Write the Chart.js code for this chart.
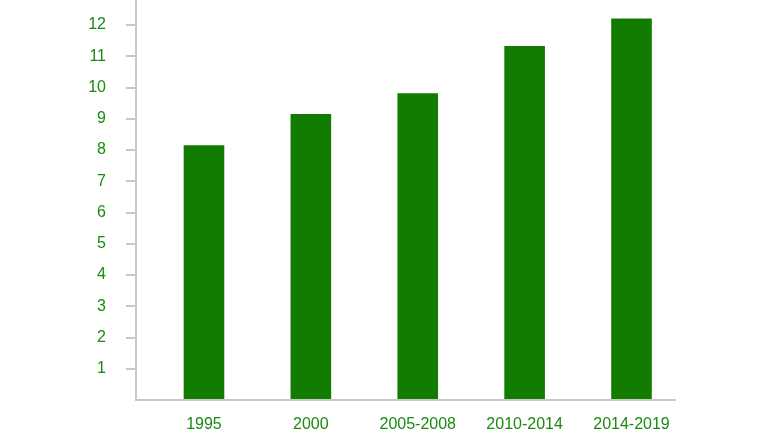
<!DOCTYPE html>
<html>
<head>
<meta charset="utf-8">
<script src="https://cdn.jsdelivr.net/npm/chart.js@4/dist/chart.umd.min.js"></script>
<style>
    html, body { margin: 0; padding: 0; background: #ffffff; }
    #wrap { width: 767px; height: 431px; position: relative; }
</style>
</head>
<body>
<div id="wrap"><canvas id="chart"></canvas></div>
<script>
// Chart data
const categories = ['1995', '2000', '2005-2008', '2010-2014', '2014-2019'];
const values = [8.15, 9.15, 9.82, 11.33, 12.21];
const yTicks = [1, 2, 3, 4, 5, 6, 7, 8, 9, 10, 11, 12];

const barColor = '#127c00';
const textColor = '#1a8a10';
const axisColor = '#c8c8c8';
const labelFont = { family: '"Liberation Sans", Arial, sans-serif', size: 16 };

/**
 * Build the bar chart
 */
function createChart() {
    const ctx = document.getElementById('chart');

    // bars are placed on a numeric x scale so the category band can be offset like the original
    const points = values.map((v, i) => ({ x: i, y: v }));

    new Chart(ctx, {
        type: 'bar',
        data: {
            datasets: [{
                data: points,
                backgroundColor: barColor,
                borderWidth: 0,
                barPercentage: 0.38,
                categoryPercentage: 1
            }]
        },
        options: {
            responsive: true,
            maintainAspectRatio: false,
            animation: false,
            layout: {
                padding: { left: 0, right: 92, top: 0, bottom: 0 }
            },
            plugins: {
                legend: { display: false },
                tooltip: { enabled: false }
            },
            scales: {
                x: {
                    type: 'linear',
                    offset: false,
                    min: -0.636,
                    max: 4.407,
                    grid: { display: false, drawTicks: false, offset: false },
                    border: { display: true, color: axisColor, width: 2 },
                    ticks: {
                        stepSize: 1,
                        includeBounds: false,
                        padding: 15,
                        color: textColor,
                        font: labelFont,
                        callback: value => Number.isInteger(value) ? categories[value] : ''
                    },
                    afterFit: scale => {
                        scale.height = 31;
                        scale.paddingLeft = 0;
                        scale.paddingRight = 0;
                    }
                },
                y: {
                    min: 0,
                    max: 12.8,
                    grid: {
                        drawOnChartArea: false,
                        drawTicks: true,
                        tickLength: 10,
                        lineWidth: 2,
                        color: c => yTicks.includes(c.tick.value) ? axisColor : 'rgba(0,0,0,0)'
                    },
                    border: { display: true, color: axisColor, width: 2 },
                    ticks: {
                        stepSize: 1,
                        includeBounds: false,
                        padding: 20,
                        color: textColor,
                        font: labelFont,
                        callback: value => yTicks.includes(value) ? String(value) : ''
                    },
                    afterFit: scale => {
                        scale.width = 136;
                        scale.paddingTop = 0;
                        scale.paddingBottom = 0;
                    }
                }
            }
        }
    });
}

createChart();
</script>
</body>
</html>
